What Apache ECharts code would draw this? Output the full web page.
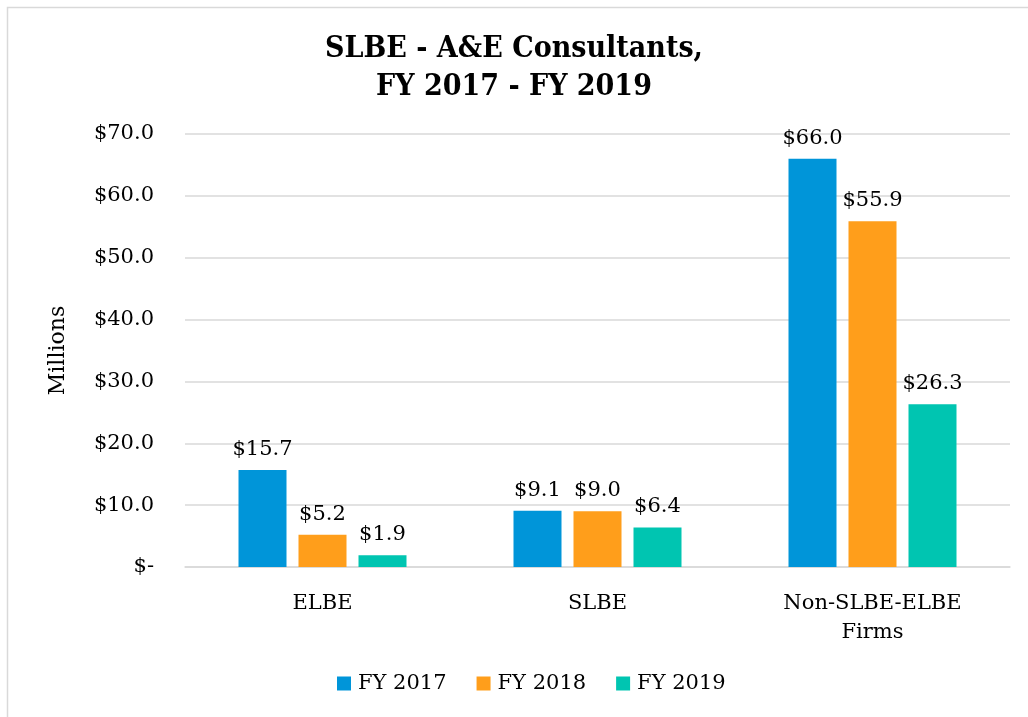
<!DOCTYPE html>
<html>
<head>
<meta charset="utf-8">
<script src="https://cdn.jsdelivr.net/npm/echarts@6/dist/echarts.min.js"></script>
<style>
  html, body { margin: 0; padding: 0; background: #fff; }
  #chart { width: 1028px; height: 717px; }
</style>
</head>
<body>
<div id="chart"></div>
<script>
// chart data
var categories = ['ELBE', 'SLBE', 'Non-SLBE-ELBE\nFirms'];
var seriesNames = ['FY 2017', 'FY 2018', 'FY 2019'];
var fy2017 = [15.7, 9.1, 66.0];
var fy2018 = [5.2, 9.0, 55.9];
var fy2019 = [1.9, 6.4, 26.3];
var colors = ['#0095d9', '#ff9e1b', '#00c5b1'];

var font = '"DejaVu Serif", serif';

function money(v) {
  return v === 0 ? '$-' : '$' + v.toFixed(1);
}

function makeSeries(name, data, color) {
  return {
    name: name,
    type: 'bar',
    data: data,
    barWidth: 48,
    barGap: '25%',
    itemStyle: { color: color },
    label: {
      show: true,
      position: 'top',
      distance: 10,
      formatter: function (p) { return money(p.value); },
      fontFamily: font,
      fontSize: 21,
      color: '#000'
    }
  };
}

var chart = echarts.init(document.getElementById('chart'));
chart.setOption({
  animation: false,
  graphic: [{
    type: 'rect',
    shape: { x: 7.5, y: 7.5, width: 1030, height: 720 },
    style: { fill: 'none', stroke: '#d9d9d9', lineWidth: 1.5 }
  }],
  title: {
    text: 'SLBE - A&E Consultants,\nFY 2017 - FY 2019',
    left: 'center',
    top: 25,
    textStyle: {
      fontFamily: '"DejaVu Serif Condensed", "DejaVu Serif", serif',
      fontWeight: 'bold',
      fontSize: 30,
      lineHeight: 38,
      color: '#000'
    }
  },
  legend: {
    bottom: 18,
    left: 332,
    itemWidth: 14,
    itemHeight: 14,
    itemGap: 30,
    icon: 'rect',
    data: seriesNames,
    textStyle: { fontFamily: font, fontSize: 21, color: '#000', padding: [0, 0, 0, 2] }
  },
  grid: { left: 185, right: 18, top: 134, bottom: 150 },
  xAxis: {
    type: 'category',
    data: categories,
    axisTick: { show: false },
    axisLine: { lineStyle: { color: '#d9d9d9', width: 1.5 } },
    axisLabel: {
      fontFamily: font,
      fontSize: 21,
      color: '#000',
      margin: 22,
      lineHeight: 29
    }
  },
  yAxis: {
    type: 'value',
    min: 0,
    max: 70,
    interval: 10,
    name: 'Millions',
    nameLocation: 'middle',
    nameGap: 116,
    nameTextStyle: { fontFamily: font, fontSize: 22, color: '#000' },
    axisLine: { show: false },
    axisTick: { show: false },
    splitLine: { lineStyle: { color: '#d9d9d9', width: 1.5 } },
    axisLabel: {
      fontFamily: font,
      fontSize: 21,
      color: '#000',
      margin: 31,
      formatter: money
    }
  },
  series: [
    makeSeries(seriesNames[0], fy2017, colors[0]),
    makeSeries(seriesNames[1], fy2018, colors[1]),
    makeSeries(seriesNames[2], fy2019, colors[2])
  ]
});
</script>
</body>
</html>
